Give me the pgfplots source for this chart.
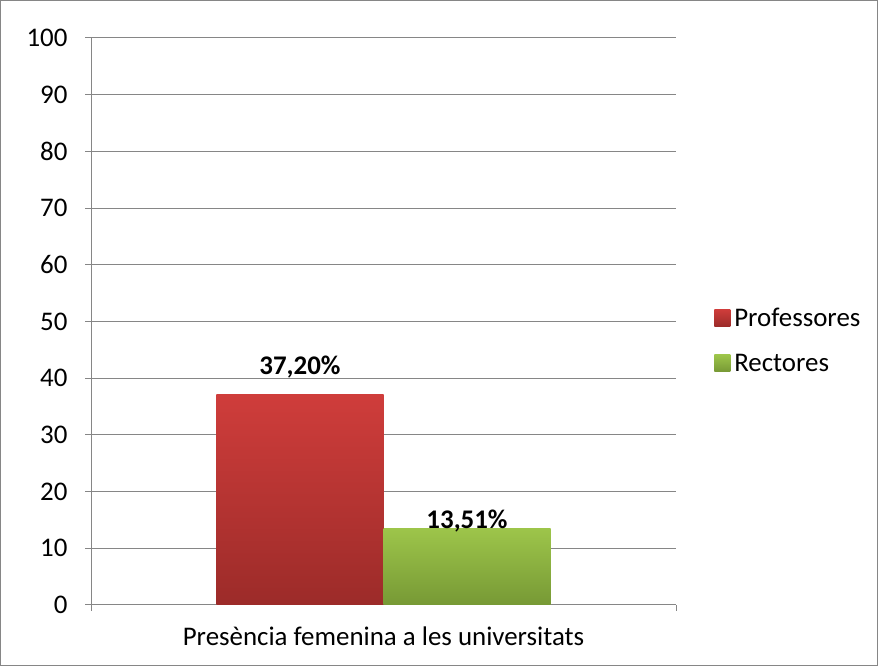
\documentclass[border=0pt]{standalone}
\usepackage{pgfplots}
\pgfplotsset{compat=1.18}
\usepackage{fontspec}
\setmainfont{Carlito}

\definecolor{gridgray}{HTML}{868686}
\definecolor{redtop}{HTML}{CF3D3B}
\definecolor{redbot}{HTML}{9C2B29}
\definecolor{grntop}{HTML}{9DC54A}
\definecolor{grnbot}{HTML}{779935}

\begin{document}
\begin{tikzpicture}[x=1bp,y=1bp]
\path[use as bounding box] (0,0) rectangle (878,666);
\draw[gridgray, line width=1bp] (0.5,0.5) rectangle (877.5,665.5);
\begin{axis}[
  at={(91bp,61bp)}, anchor=south west,
  scale only axis, width=585bp, height=567bp,
  font=\fontsize{27}{30}\selectfont,
  /pgf/number format/assume math mode=true,
  xmin=-0.5, xmax=0.5, ymin=0, ymax=100,
  ytick={0,10,...,100},
  xtick={-0.5,0.5}, xticklabels={},
  extra x ticks={0},
  extra x tick labels={Presència femenina a les universitats},
  extra x tick style={major tick length=0pt, grid=none,
    xticklabel style={yshift=-18bp}},
  axis x line*=bottom, axis y line*=left,
  axis line style={gridgray, line width=1bp, -},
  tick style={gridgray, line width=1bp},
  major tick length=6bp, tick align=outside,
  ymajorgrids, grid style={gridgray, line width=1bp},
  yticklabel style={xshift=-14bp},
  ybar, bar width=0.2855,
  legend style={at={(1.06,0.466)}, anchor=west, draw=none,
    font=\fontsize{27}{30}\selectfont, row sep=22bp,
    legend cell align=left,
    nodes={inner xsep=4bp}},
  legend image code/.code={\path[#1, draw=none] (0bp,-8bp) rectangle (16bp,9bp);},
]
\addplot[bar shift=-0.14275, draw=none, top color=redtop, bottom color=redbot,
  nodes near coords={\textbf{37,20\%}},
  every node near coord/.append style={anchor=center, yshift=27bp, black,
    font=\fontsize{27}{30}\selectfont}]
  coordinates {(0,37.2)};
\addplot[bar shift=0.14275, draw=none, top color=grntop, bottom color=grnbot,
  nodes near coords={\textbf{13,51\%}},
  every node near coord/.append style={anchor=center, yshift=7bp, black,
    font=\fontsize{27}{30}\selectfont}]
  coordinates {(0,13.51)};
\legend{Professores, Rectores}
\end{axis}
\end{tikzpicture}
\end{document}
